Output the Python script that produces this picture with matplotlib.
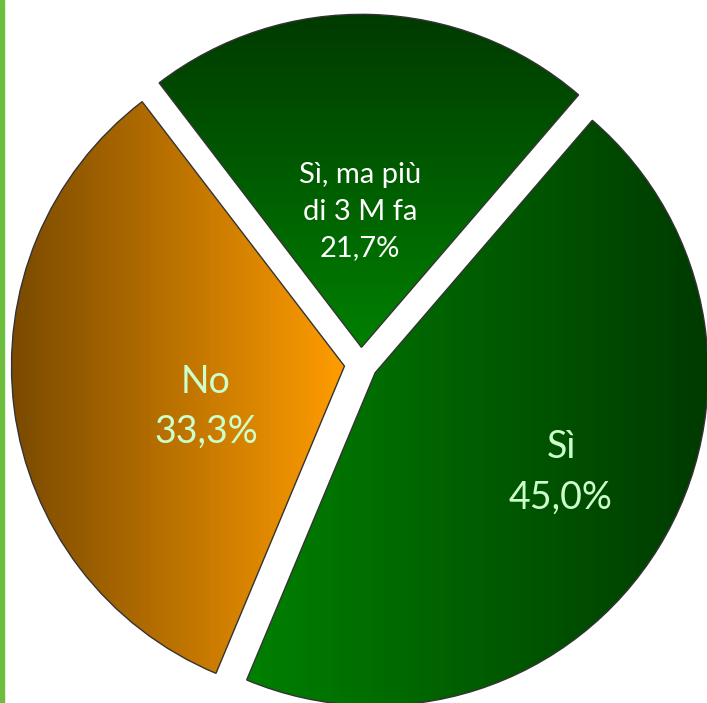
import numpy as np
import matplotlib.pyplot as plt
from matplotlib.colors import LinearSegmentedColormap
from matplotlib.patches import Rectangle

labels = ['Sì, ma più\ndi 3 M fa', 'No', 'Sì']
values = [21.7, 33.3, 45.0]

# gradient end colours per slice and the direction of the gradient
grad_colors = [('#003a00', '#008000'), ('#7a4a00', '#ff9c00'), ('#008000', '#003a00')]
grad_dir = ['v', 'h', 'h']
text_colors = ['white', '#ccffcc', '#ccffcc']
text_sizes = [21, 27, 27]

W, H = 707, 703
R = 333.0
cx, cy = 361, 364

fig = plt.figure(figsize=(W / 100, H / 100), dpi=100)
ax = fig.add_axes([0, 0, 1, 1])

wedges, _ = ax.pie(values, startangle=49.3, counterclock=True,
                   explode=[0.05] * 3, radius=1,
                   wedgeprops=dict(edgecolor='#333333', linewidth=1.0))

for w, (c0, c1), d in zip(wedges, grad_colors, grad_dir):
    cmap = LinearSegmentedColormap.from_list('g', [c0, c1])
    bb = w.get_path().get_extents()
    if d == 'h':
        grad = np.linspace(0, 1, 256).reshape(1, -1)
    else:
        # dark along the rim, bright towards the tip
        grad = np.linspace(1, 0, 256).reshape(-1, 1)
    im = ax.imshow(grad, cmap=cmap, extent=(bb.x0, bb.x1, bb.y0, bb.y1),
                   aspect='auto', origin='lower', zorder=1,
                   interpolation='bilinear')
    im.set_clip_path(w)
    w.set_facecolor('none')
    w.set_zorder(2)

# label anchors in pixel space
label_px = [(360, 212), (206, 407), (561, 472)]
spacing = [1.5, 1.45, 1.5]
for lab, v, (px, py), col, fs, ls in zip(labels, values, label_px, text_colors, text_sizes, spacing):
    txt = f"{lab}\n{v:.1f}%".replace('.', ',')
    ax.text((px - cx) / R, (cy - py) / R, txt, ha='center', va='center',
            color=col, fontsize=fs, family='Lato', linespacing=ls, zorder=3)

ax.set_xlim(-cx / R, (W - cx) / R)
ax.set_ylim(-(H - cy) / R, cy / R)
ax.set_aspect('auto')
ax.axis('off')

# thin green bar along the left edge
fig.patches.append(Rectangle((0, 0), 3.5 / W, 1, transform=fig.transFigure,
                             color='#6dbe3d', zorder=5))

fig.savefig('out.png', dpi=100)
